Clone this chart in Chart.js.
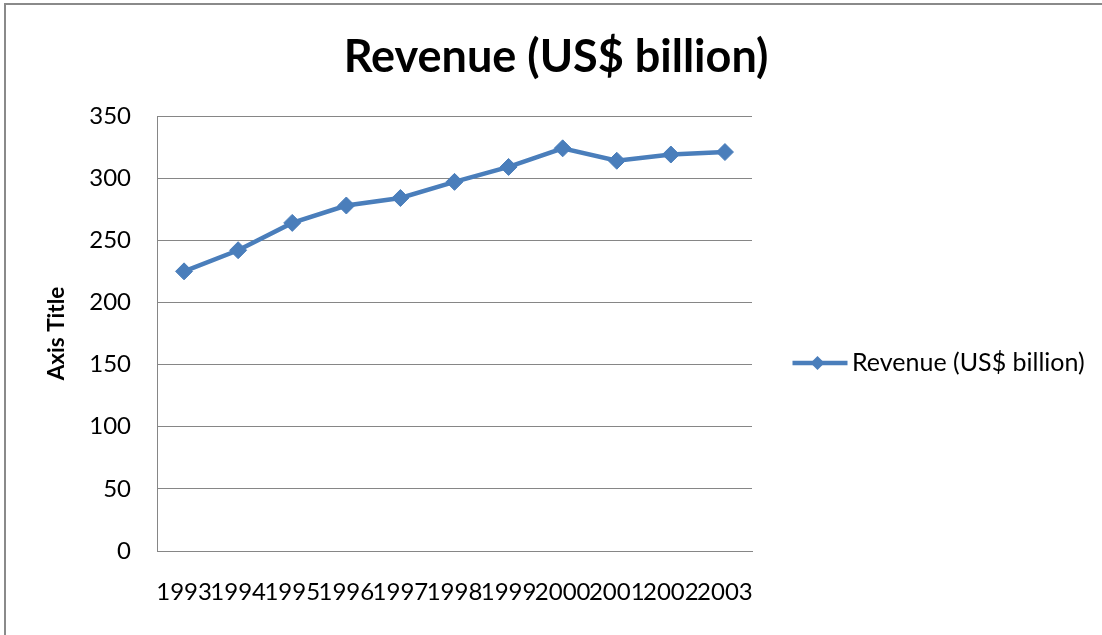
<!DOCTYPE html>
<html>
<head>
<meta charset="utf-8">
<title>Revenue (US$ billion)</title>
<script src="https://cdn.jsdelivr.net/npm/chart.js@4/dist/chart.umd.min.js"></script>
<style>
    html, body { margin: 0; padding: 0; background: #fff; overflow: hidden; }
    .cadre { position: relative; width: 1102px; height: 635px; }
    .cadre-bord {
        position: absolute; left: 4px; top: 3px; width: 1200px; height: 800px;
        border-left: 2px solid #8a8a8a; border-top: 2px solid #8a8a8a;
        pointer-events: none;
    }
    canvas { position: absolute; left: 0; top: 0; }
</style>
</head>
<body>
<div class="cadre">
    <canvas id="revenueChart" width="1102" height="635"></canvas>
    <div class="cadre-bord"></div>
</div>
<script>
// Données
const annees = ['1993', '1994', '1995', '1996', '1997', '1998', '1999', '2000', '2001', '2002', '2003'];
const revenus = [225, 242, 264, 278, 284, 297, 309, 324, 314, 319, 321];
const nomSerie = 'Revenue (US$ billion)';
const titreAxeY = 'Axis Title';

const bleu = '#4A7EBB';
const gris = '#868686';

// marges : le titre reste centré sur x = 556 malgré la légende à droite
const margeGauche = 10;
const margeDroite = 0;
const largeurLegende = 350;

Chart.defaults.font.family = "'Lato', 'Open Sans', sans-serif";
Chart.defaults.color = '#000';

// Chart.js limite la largeur d'une légende latérale : on impose la nôtre
const legendeLarge = {
    id: 'legendeLarge',
    beforeLayout(chart) {
        const legende = chart.legend;
        if (!legende || legende._largeurFixe) return;
        const fitOrigine = legende.fit.bind(legende);
        legende.fit = function () {
            fitOrigine();
            this.width = largeurLegende;
        };
        legende._largeurFixe = true;
    }
};

// Icône de légende : trait avec losange au milieu
function iconeLegende() {
    const c = document.createElement('canvas');
    c.width = 64;
    c.height = 20;
    const ctx = c.getContext('2d');
    ctx.strokeStyle = bleu;
    ctx.lineWidth = 4.5;
    ctx.beginPath();
    ctx.moveTo(4.5, 10);
    ctx.lineTo(59.5, 10);
    ctx.stroke();
    ctx.fillStyle = bleu;
    ctx.beginPath();
    ctx.moveTo(29.5, 3);
    ctx.lineTo(36.5, 10);
    ctx.lineTo(29.5, 17);
    ctx.lineTo(22.5, 10);
    ctx.closePath();
    ctx.fill();
    return c;
}

new Chart(document.getElementById('revenueChart'), {
    type: 'line',
    data: {
        labels: annees,
        datasets: [{
            label: nomSerie,
            data: revenus,
            borderColor: bleu,
            backgroundColor: bleu,
            borderWidth: 4.5,
            tension: 0,
            pointStyle: 'rectRot',
            pointRadius: 8.5,
            pointBorderWidth: 1,
            pointBackgroundColor: bleu,
            pointBorderColor: bleu
        }]
    },
    plugins: [legendeLarge],
    options: {
        responsive: false,
        animation: false,
        layout: { padding: { left: margeGauche, right: margeDroite, top: 0, bottom: 0 } },
        plugins: {
            title: {
                display: true,
                text: nomSerie,
                font: { size: 45, weight: 'bold' },
                color: '#000',
                padding: { top: 30, bottom: 32 }
            },
            legend: {
                position: 'right',
                title: { display: true, text: ' ', font: { size: 10 }, padding: { top: 79, bottom: 0 } },
                labels: {
                    font: { size: 25 },
                    color: '#000',
                    usePointStyle: true,
                    pointStyle: iconeLegende(),
                    pointStyleWidth: 39,
                    padding: 48.5
                }
            },
            tooltip: { enabled: false }
        },
        scales: {
            x: {
                offset: true,
                grid: { display: false, drawTicks: false },
                border: { display: true, color: gris, width: 1 },
                ticks: {
                    autoSkip: false,
                    maxRotation: 0,
                    minRotation: 0,
                    padding: 27,
                    font: { size: 24 }
                },
                afterFit: function (scale) { scale.height = 84; }
            },
            y: {
                min: 0,
                max: 350,
                grid: { color: gris, lineWidth: 1, drawTicks: false },
                border: { display: true, color: gris, width: 1 },
                ticks: { stepSize: 50, padding: 26, font: { size: 24 } },
                title: {
                    display: true,
                    text: titreAxeY,
                    font: { size: 22.5, weight: 'bold' },
                    padding: { top: 57 - margeGauche - 13.5, bottom: 0 }
                },
                afterFit: function (scale) { scale.width = 157 - margeGauche; }
            }
        }
    }
});
</script>
</body>
</html>
